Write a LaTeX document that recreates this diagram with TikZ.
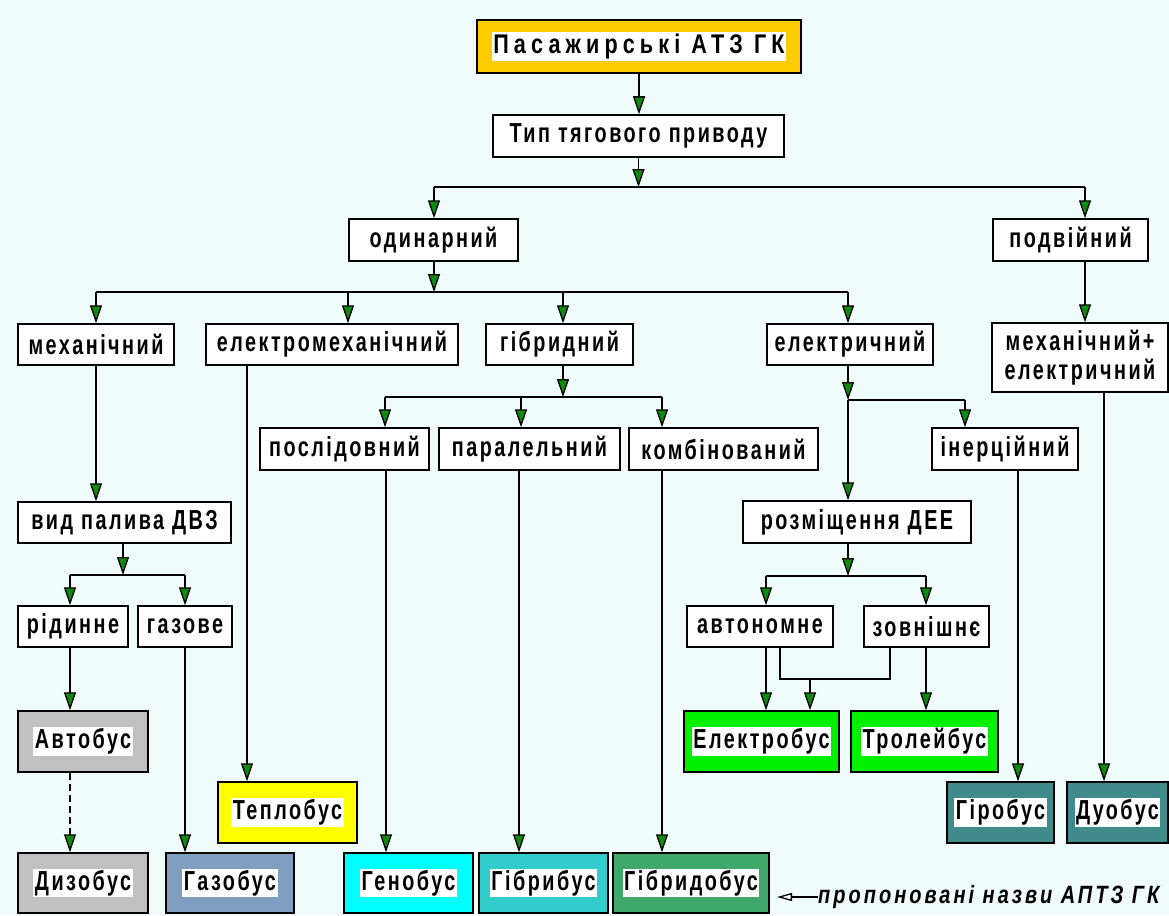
\documentclass[tikz,border=0pt]{standalone}
\usepackage{fontspec}
\newfontfamily\dfont{Liberation Sans}[FakeStretch=0.72,LetterSpace=9]
\newfontfamily\tfont{Liberation Sans}[FakeStretch=0.8,LetterSpace=19]
\newfontfamily\lfont{Liberation Sans}[FakeStretch=0.8,LetterSpace=12]
\usetikzlibrary{arrows.meta,calc}
\definecolor{bg}{HTML}{F0FCFC}
\definecolor{cGold}{HTML}{FFCC00}
\definecolor{cSilver}{HTML}{C0C0C0}
\definecolor{cSteel}{HTML}{809FC0}
\definecolor{cYel}{HTML}{FFFF00}
\definecolor{cCyan}{HTML}{00FFFF}
\definecolor{cTurq}{HTML}{33CCCC}
\definecolor{cSea}{HTML}{3FA86B}
\definecolor{cLime}{HTML}{00F000}
\definecolor{cTeal}{HTML}{3F8A8A}
\definecolor{cArr}{HTML}{108A10}
\newcommand\whitebg[1]{{\setlength\fboxsep{1.5pt}\colorbox{white}{#1}}}
\tikzset{
  box/.style={draw=black, line width=1.5pt, fill=white, inner sep=0pt, align=center,
    font=\dfont\bfseries\fontsize{27.5}{29}\selectfont},
  arr/.style={line width=1.3pt, -{Triangle[length=18pt,width=12pt,fill=cArr]}},
  ln/.style={line width=1.3pt},
}
\begin{document}
\begin{tikzpicture}[x=1pt,y=-1pt]
\useasboundingbox (0,0) rectangle (1169,915);
\fill[bg] (0,0) rectangle (1169,915);

% nodes
\node[box, fill=cGold, minimum width=324pt, minimum height=53pt, font=\tfont\bfseries\fontsize{27}{29}\selectfont] (top) at (639,46.5) {\whitebg{Пасажирські АТЗ ГК}};
\node[box, minimum width=291pt, minimum height=42pt] (tip) at (638.5,136) {Тип тягового приводу};
\node[box, minimum width=169pt, minimum height=42pt] (odyn) at (433.5,240) {одинарний};
\node[box, minimum width=155pt, minimum height=42pt] (podv) at (1070.5,240) {подвійний};
\node[box, minimum width=156pt, minimum height=41pt] (mech) at (96,344.5) {механічний};
\node[box, minimum width=252pt, minimum height=41pt] (elmech) at (332,344.5) {електромеханічний};
\node[box, minimum width=147pt, minimum height=41pt] (hybr) at (559.5,344.5) {гібридний};
\node[box, minimum width=166pt, minimum height=41pt] (elec) at (850,344.5) {електричний};
\node[box, minimum width=176pt, minimum height=69pt] (mechel) at (1080,357.5) {механічний+\\електричний};
\node[box, minimum width=169pt, minimum height=42pt] (posl) at (344.5,449) {послідовний};
\node[box, minimum width=181pt, minimum height=42pt] (paral) at (529.5,449) {паралельний};
\node[box, minimum width=189pt, minimum height=42pt] (komb) at (723.5,449) {комбінований};
\node[box, minimum width=146pt, minimum height=42pt] (iner) at (1005,449) {інерційний};
\node[box, minimum width=213pt, minimum height=41pt] (vyd) at (124.5,522.5) {вид палива ДВЗ};
\node[box, minimum width=228pt, minimum height=42pt] (rozm) at (857,522) {розміщення ДЕЕ};
\node[box, minimum width=146pt, minimum height=41pt] (avt) at (760,626.5) {автономне};
\node[box, minimum width=125pt, minimum height=41pt] (zovn) at (926.5,626.5) {зовнішнє};
\node[box, minimum width=110pt, minimum height=41pt] (rid) at (73,626.5) {рідинне};
\node[box, minimum width=94pt, minimum height=41pt] (gaz) at (185,626.5) {газове};
\node[box, fill=cSilver, minimum width=130pt, minimum height=61pt] (avtobus) at (83,741.5) {\whitebg{Автобус}};
\node[box, fill=cSilver, minimum width=130pt, minimum height=60pt] (dyzo) at (83,883) {\whitebg{Дизобус}};
\node[box, fill=cSteel, minimum width=128pt, minimum height=60pt] (gazo) at (230,883) {\whitebg{Газобус}};
\node[box, fill=cYel, minimum width=139pt, minimum height=61pt] (teplo) at (287.5,812.5) {\whitebg{Теплобус}};
\node[box, fill=cCyan, minimum width=129pt, minimum height=60pt] (geno) at (408.5,883) {\whitebg{Генобус}};
\node[box, fill=cTurq, minimum width=129pt, minimum height=60pt] (gibri) at (543.5,883) {\whitebg{Гібрибус}};
\node[box, fill=cSea, minimum width=156pt, minimum height=60pt] (gibrido) at (691,883) {\whitebg{Гібридобус}};
\node[box, fill=cLime, minimum width=155pt, minimum height=61pt] (elektro) at (761.5,741.5) {\whitebg{Електробус}};
\node[box, fill=cLime, minimum width=147pt, minimum height=61pt] (troleib) at (924.5,741.5) {\whitebg{Тролейбус}};
\node[box, fill=cTeal, minimum width=107pt, minimum height=61pt] (giro) at (1000.5,812.5) {\whitebg{Гіробус}};
\node[box, fill=cTeal, minimum width=101pt, minimum height=61pt] (duo) at (1117.5,812.5) {\whitebg{Дуобус}};

% junction / column coordinates
\coordinate (j1) at (638.5,187);
\coordinate (jL) at (434,187);
\coordinate (jR) at (1085,187);
\coordinate (j2) at (434,292);
\coordinate (b2L) at (96,292);
\coordinate (b2E) at (348,292);
\coordinate (b2H) at (563,292);
\coordinate (b2R) at (848,292);
\coordinate (j3) at (123,575);
\coordinate (b3L) at (70,575);
\coordinate (b3R) at (185,575);
\coordinate (xTep) at (247,0);
\coordinate (j4) at (563,397);
\coordinate (b4L) at (385,397);
\coordinate (b4M) at (521,397);
\coordinate (b4R) at (662,397);
\coordinate (xGen) at (386,0);
\coordinate (xGib) at (519,0);
\coordinate (j5) at (848,400);
\coordinate (b5R) at (965,400);
\coordinate (j6) at (848,576);
\coordinate (b6L) at (766,576);
\coordinate (b6R) at (926,576);
\coordinate (xA2) at (780,679);
\coordinate (xZ2) at (890,679);
\coordinate (xE2) at (810,679);
\coordinate (xGir) at (1018,0);
\coordinate (xDuo) at (1104,0);

% connectors
\draw[arr] (top.south) -- (top.south |- tip.north);
\draw[arr] (tip.south) -- (j1);
\draw[ln] (jL) -- (jR);
\draw[arr] (jL) -- (jL |- odyn.north);
\draw[arr] (jR) -- (jR |- podv.north);
\draw[arr] (j2 |- odyn.south) -- (j2);
\draw[ln] (b2L) -- (b2R);
\draw[arr] (b2L) -- (b2L |- mech.north);
\draw[arr] (b2E) -- (b2E |- elmech.north);
\draw[arr] (b2H) -- (b2H |- hybr.north);
\draw[arr] (b2R) -- (b2R |- elec.north);
\draw[arr] (jR |- podv.south) -- (jR |- mechel.north);
\draw[arr] (b2L |- mech.south) -- (b2L |- vyd.north);
\draw[arr] (j3 |- vyd.south) -- (j3);
\draw[ln] (b3L) -- (b3R);
\draw[arr] (b3L) -- (b3L |- rid.north);
\draw[arr] (b3R) -- (b3R |- gaz.north);
\draw[arr] (b3L |- rid.south) -- (b3L |- avtobus.north);
\draw[arr, dash pattern=on 7pt off 4pt] (b3L |- avtobus.south) -- (b3L |- dyzo.north);
\draw[arr] (b3R |- gaz.south) -- (b3R |- gazo.north);
\draw[arr] (xTep |- elmech.south) -- (xTep |- teplo.north);
\draw[arr] (j4 |- hybr.south) -- (j4);
\draw[ln] (b4L) -- (b4R);
\draw[arr] (b4L) -- (b4L |- posl.north);
\draw[arr] (b4M) -- (b4M |- paral.north);
\draw[arr] (b4R) -- (b4R |- komb.north);
\draw[arr] (xGen |- posl.south) -- (xGen |- geno.north);
\draw[arr] (xGib |- paral.south) -- (xGib |- gibri.north);
\draw[arr] (b4R |- komb.south) -- (b4R |- gibrido.north);
\draw[arr] (j5 |- elec.south) -- (j5);
\draw[arr] (j5) -- (j5 |- rozm.north);
\draw[ln] (j5) -- (b5R);
\draw[arr] (b5R) -- (b5R |- iner.north);
\draw[arr] (j6 |- rozm.south) -- (j6);
\draw[ln] (b6L) -- (b6R);
\draw[arr] (b6L) -- (b6L |- avt.north);
\draw[arr] (b6R) -- (b6R |- zovn.north);
\draw[arr] (b6L |- avt.south) -- (b6L |- elektro.north);
\draw[ln] (xA2 |- avt.south) -- (xA2) -- (xZ2) -- (xZ2 |- zovn.south);
\draw[arr] (xE2) -- (xE2 |- elektro.north);
\draw[arr] (b6R |- zovn.south) -- (b6R |- troleib.north);
\draw[arr] (xGir |- iner.south) -- (xGir |- giro.north);
\draw[arr] (xDuo |- mechel.south) -- (xDuo |- duo.north);

% legend
\node[anchor=west, inner sep=0pt, font=\lfont\bfseries\itshape\fontsize{25}{28}\selectfont] (leg) at (818,897) {пропоновані назви АПТЗ ГК};
\coordinate (legtip) at (777,897);
\draw[line width=1.3pt, -{Triangle[length=15pt,width=8pt,fill=white]}] (leg.west) -- (legtip);
\end{tikzpicture}
\end{document}
